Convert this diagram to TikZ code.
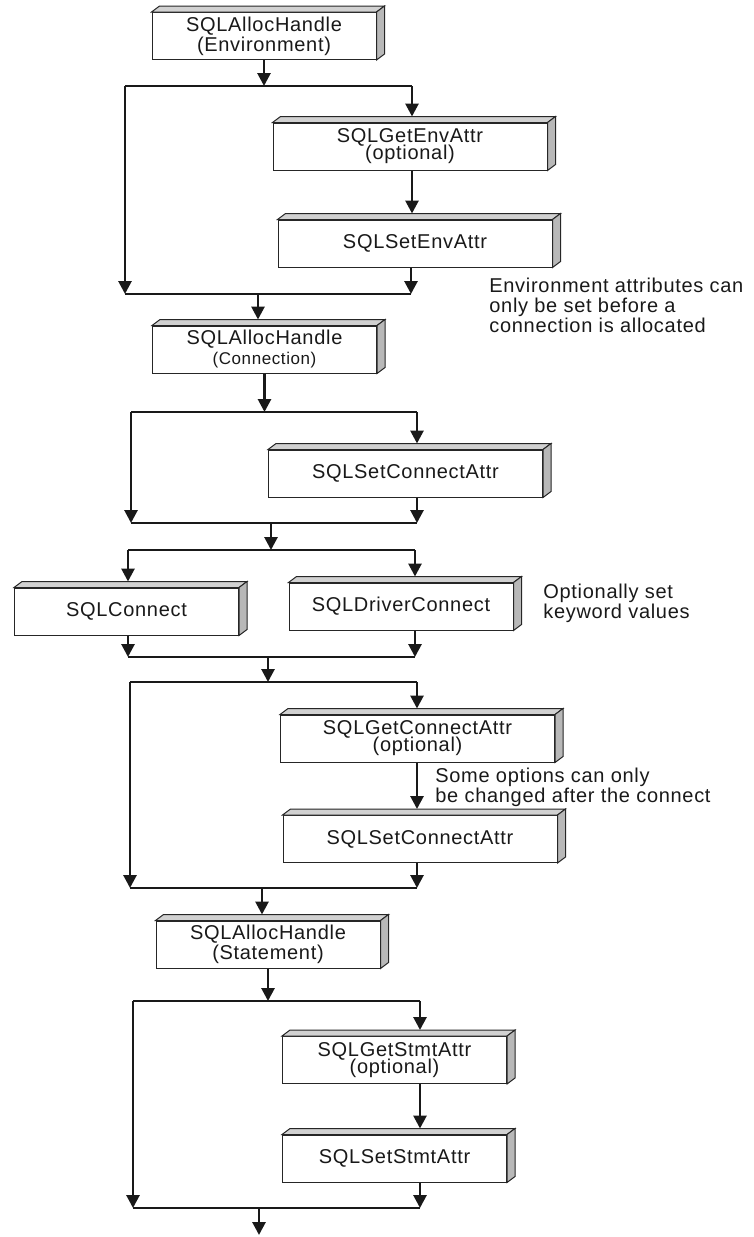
\documentclass[tikz,border=0pt]{standalone}
\usepackage{fontspec}
\setmainfont{Liberation Sans}[LetterSpace=3.5]
\usetikzlibrary{arrows.meta}

\tikzset{
  box/.style={draw=black!85, line width=0.5pt, fill=white, minimum height=23.5pt,
    inner sep=0pt, align=center, text=black!90, font=\fontsize{10}{10}\selectfont},
  wide/.style={box, minimum width=137pt},
  narrow/.style={box, minimum width=112pt},
  topface/.style={draw=black!85, line width=0.5pt, fill=black!18},
  sideface/.style={draw=black!85, line width=0.5pt, fill=black!28},
  flow/.style={line width=1.4pt, black!90},
  note/.style={align=left, anchor=west, inner sep=0pt, text=black!90,
    font=\fontsize{10}{10}\selectfont}
}

\begin{document}
\begin{tikzpicture}[x=0.5pt,y=-0.5pt,>={Triangle[length=6.5pt,width=6.5pt]}]
    \useasboundingbox (0,0) rectangle (754,1237);

    % boxes
    \node[narrow] (envH) at (264,36) {SQLAllocHandle\\(Environment)};
    \node[wide] (getEnv) at (410,146.5) {SQLGetEnvAttr\\[-1.5pt](optional)};
    \node[wide] (setEnv) at (415,243.5) {SQLSetEnvAttr};
    \node[narrow] (conH) at (264.5,349.5) {SQLAllocHandle\\{\fontsize{8.5}{10}\selectfont(Connection)}};
    \node[wide] (setCon1) at (405.5,473.5) {SQLSetConnectAttr};
    \node[narrow] (connect) at (126.5,611.5) {SQLConnect};
    \node[narrow] (drvCon) at (401,606.5) {SQLDriverConnect};
    \node[wide] (getCon) at (417.5,738.5) {SQLGetConnectAttr\\[-1.5pt](optional)};
    \node[wide] (setCon2) at (420,839) {SQLSetConnectAttr};
    \node[narrow] (stmtH) at (268,944.5) {SQLAllocHandle\\(Statement)};
    \node[narrow] (getStmt) at (394.5,1060) {SQLGetStmtAttr\\[-1.5pt](optional)};
    \node[narrow] (setStmt) at (394.5,1158.5) {SQLSetStmtAttr};

    % 3d faces
    \foreach \n in {envH,getEnv,setEnv,conH,setCon1,connect,drvCon,getCon,setCon2,stmtH,getStmt,setStmt} {
        \draw[topface] (\n.north west) -- ++(8,-6) -- ([shift={(8,-6)}]\n.north east) -- (\n.north east) -- cycle;
        \draw[sideface] (\n.north east) -- ++(8,-6) -- ([shift={(8,-6)}]\n.south east) -- (\n.south east) -- cycle;
    }

    % notes
    \node[note] (envNote) at (489,305) {Environment attributes can\\only be set before a\\connection is allocated};
    \node[note] (kwNote) at (543,603) {Optionally set\\keyword values};
    \node[note] (optNote) at (435,787) {Some options can only\\be changed after the connect};

    % junctions
    \coordinate (g1l) at (125,86);  \coordinate (g1r) at (412,86);
    \coordinate (m1l) at (125,294); \coordinate (m1r) at (411,294);
    \coordinate (j1) at (258,294);
    \coordinate (g2l) at (131,412); \coordinate (g2r) at (417,412);
    \coordinate (m2l) at (131,523); \coordinate (m2r) at (417,523);
    \coordinate (j2) at (271,523);
    \coordinate (g3l) at (128,550); \coordinate (g3r) at (415,550);
    \coordinate (m3l) at (128,657); \coordinate (m3r) at (415,657);
    \coordinate (j3) at (268,657);
    \coordinate (g4l) at (130,682); \coordinate (g4r) at (417,682);
    \coordinate (m4l) at (130,888); \coordinate (m4r) at (417,888);
    \coordinate (j4) at (262,888);
    \coordinate (g5l) at (133,1001); \coordinate (g5r) at (420,1001);
    \coordinate (m5l) at (133,1208); \coordinate (m5r) at (420,1208);
    \coordinate (j5) at (259,1208); \coordinate (exit) at (259,1235);

    % bars
    \foreach \a/\b in {g1l/g1r,m1l/m1r,g2l/g2r,m2l/m2r,g3l/g3r,m3l/m3r,g4l/g4r,m4l/m4r,g5l/g5r,m5l/m5r}
        \draw[flow] (\a) -- (\b);

    % environment
    \path[flow,->] (envH.south) edge (envH.south |- g1l)
        (g1r) edge[shorten >=3pt] (g1r |- getEnv.north)
        (getEnv.south -| g1r) edge[shorten >=3pt] (setEnv.north -| g1r)
        (setEnv.south -| m1r) edge (m1r)
        (g1l) edge (m1l)
        (j1) edge[shorten >=3pt] (j1 |- conH.north);

    % connection
    \path[flow,->] (conH.south) edge (conH.south |- g2l)
        (g2r) edge[shorten >=3pt] (g2r |- setCon1.north)
        (setCon1.south -| m2r) edge (m2r)
        (g2l) edge (m2l)
        (j2) edge (j2 |- g3l)
        (g3l) edge[shorten >=3pt] (g3l |- connect.north)
        (g3r) edge[shorten >=3pt] (g3r |- drvCon.north)
        (connect.south -| m3l) edge (m3l)
        (drvCon.south -| m3r) edge (m3r)
        (j3) edge (j3 |- g4l);

    % connect attributes
    \path[flow,->] (g4r) edge[shorten >=3pt] (g4r |- getCon.north)
        (getCon.south -| g4r) edge[shorten >=3pt] (setCon2.north -| g4r)
        (setCon2.south -| m4r) edge (m4r)
        (g4l) edge (m4l)
        (j4) edge[shorten >=3pt] (j4 |- stmtH.north);

    % statement
    \path[flow,->] (stmtH.south) edge (stmtH.south |- g5l)
        (g5r) edge[shorten >=3pt] (g5r |- getStmt.north)
        (getStmt.south -| g5r) edge[shorten >=3pt] (setStmt.north -| g5r)
        (setStmt.south -| m5r) edge (m5r)
        (g5l) edge (m5l)
        (j5) edge (exit);
\end{tikzpicture}
\end{document}
